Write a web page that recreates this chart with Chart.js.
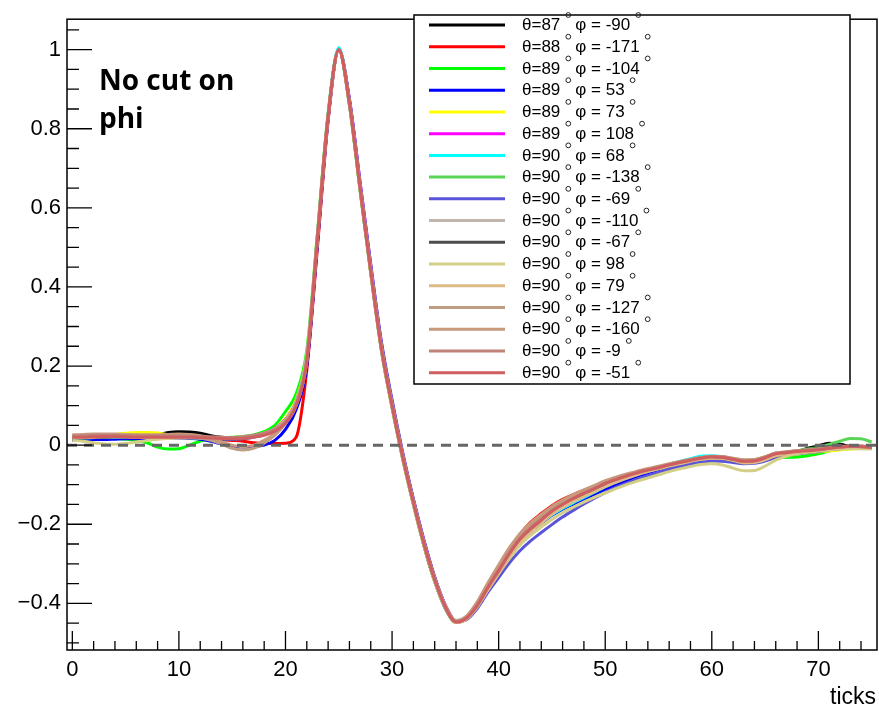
<!DOCTYPE html>
<html>
<head>
<meta charset="utf-8">
<script src="https://cdn.jsdelivr.net/npm/chart.js@4.4.0/dist/chart.umd.min.js"></script>
<style>
  html, body { margin: 0; padding: 0; background: #fff; }
</style>
</head>
<body>
<canvas id="myChart" width="879" height="708"></canvas>
<script>
// sample index on the x axis ("ticks")
const sampleTicks = [...Array(76).keys()];

const xMajor = [0, 10, 20, 30, 40, 50, 60, 70];
const yMajor = [-0.4, -0.2, 0, 0.2, 0.4, 0.6, 0.8, 1];

const thetas = ['87', '88', '89', '89', '89', '89', '90', '90', '90', '90', '90', '90', '90', '90', '90', '90', '90'];
const phis = ['-90', '-171', '-104', '53', '73', '108', '68', '-138', '-69', '-110', '-67', '98', '79', '-127', '-160', '-9', '-51'];
const colors = ['#000000', '#ff0000', '#00ff00', '#0000ff', '#ffff00', '#ff00ff', '#00ffff', '#59d454', '#5954d9',
  '#c0b6ac', '#4d4d4d', '#d4cf87', '#deba87', '#bd9e82', '#c7997d', '#bf8278', '#cf5e61'];

const s1 = [0.015,0.016,0.018,0.02,0.02,0.02,0.022,0.024,0.026,0.032,
  0.034,0.033,0.03,0.024,0.02,0.018,0.02,0.022,0.027,0.038,
  0.06,0.105,0.22,0.53,0.835,1.0,0.86,0.645,0.435,0.24,
  0.095,-0.035,-0.15,-0.255,-0.345,-0.413,-0.448,-0.438,-0.407,-0.362,
  -0.32,-0.277,-0.24,-0.21,-0.188,-0.166,-0.15,-0.136,-0.123,-0.111,
  -0.098,-0.088,-0.079,-0.071,-0.064,-0.058,-0.051,-0.045,-0.039,-0.034,
  -0.031,-0.032,-0.037,-0.042,-0.042,-0.036,-0.028,-0.022,-0.016,-0.008,
  -0.002,0.005,0.002,-0.003,-0.005,-0.007];
const s2 = [0.018,0.018,0.019,0.02,0.02,0.019,0.018,0.018,0.018,0.019,
  0.02,0.02,0.018,0.016,0.014,0.012,0.01,0.006,0.004,0.004,
  0.005,0.02,0.19,0.5,0.82,1.0,0.87,0.655,0.445,0.25,
  0.105,-0.025,-0.14,-0.245,-0.335,-0.405,-0.445,-0.436,-0.402,-0.355,
  -0.31,-0.265,-0.225,-0.195,-0.173,-0.153,-0.137,-0.125,-0.114,-0.104,
  -0.093,-0.084,-0.076,-0.069,-0.062,-0.056,-0.049,-0.043,-0.037,-0.032,
  -0.029,-0.03,-0.035,-0.04,-0.039,-0.031,-0.022,-0.019,-0.016,-0.013,
  -0.01,-0.007,-0.005,-0.004,-0.005,-0.006];
const s3 = [0.016,0.017,0.018,0.018,0.017,0.015,0.012,0.006,-0.005,-0.01,
  -0.009,0.0,0.01,0.016,0.018,0.02,0.022,0.026,0.034,0.05,
  0.085,0.13,0.24,0.535,0.835,1.0,0.862,0.645,0.438,0.243,
  0.098,-0.032,-0.147,-0.252,-0.342,-0.41,-0.446,-0.434,-0.399,-0.352,
  -0.308,-0.266,-0.232,-0.207,-0.186,-0.166,-0.15,-0.136,-0.123,-0.111,
  -0.098,-0.088,-0.079,-0.071,-0.064,-0.058,-0.052,-0.046,-0.04,-0.035,
  -0.032,-0.033,-0.037,-0.04,-0.04,-0.036,-0.032,-0.031,-0.03,-0.027,
  -0.022,-0.015,-0.01,-0.006,-0.004,-0.005];
const s4 = [0.012,0.013,0.014,0.014,0.015,0.016,0.016,0.017,0.018,0.018,
  0.018,0.017,0.015,0.01,0.003,-0.003,-0.005,-0.004,0.0,0.012,
  0.04,0.09,0.2,0.51,0.825,1.0,0.87,0.655,0.445,0.25,
  0.105,-0.025,-0.14,-0.245,-0.337,-0.408,-0.447,-0.438,-0.408,-0.365,
  -0.322,-0.28,-0.244,-0.218,-0.197,-0.177,-0.162,-0.149,-0.136,-0.124,
  -0.111,-0.1,-0.089,-0.079,-0.07,-0.062,-0.054,-0.047,-0.041,-0.035,
  -0.032,-0.033,-0.037,-0.042,-0.042,-0.036,-0.026,-0.022,-0.02,-0.018,
  -0.016,-0.013,-0.01,-0.008,-0.007,-0.008];
const s5 = [0.02,0.021,0.022,0.024,0.027,0.03,0.032,0.032,0.031,0.026,
  0.022,0.02,0.019,0.018,0.018,0.019,0.021,0.024,0.03,0.042,
  0.068,0.115,0.23,0.54,0.84,1.0,0.862,0.647,0.437,0.243,
  0.097,-0.033,-0.148,-0.253,-0.343,-0.412,-0.448,-0.436,-0.403,-0.358,
  -0.316,-0.274,-0.238,-0.212,-0.19,-0.17,-0.153,-0.14,-0.127,-0.115,
  -0.102,-0.091,-0.081,-0.073,-0.066,-0.059,-0.052,-0.046,-0.04,-0.035,
  -0.032,-0.033,-0.038,-0.044,-0.044,-0.037,-0.028,-0.024,-0.021,-0.019,
  -0.017,-0.015,-0.012,-0.01,-0.008,-0.008];
const s6 = [0.02,0.02,0.02,0.021,0.021,0.02,0.02,0.02,0.021,0.022,
  0.022,0.021,0.02,0.019,0.018,0.018,0.02,0.024,0.03,0.042,
  0.065,0.11,0.225,0.53,0.835,1.0,0.875,0.665,0.455,0.258,
  0.11,-0.022,-0.138,-0.243,-0.335,-0.405,-0.444,-0.436,-0.404,-0.36,
  -0.317,-0.275,-0.238,-0.212,-0.19,-0.168,-0.151,-0.137,-0.124,-0.112,
  -0.099,-0.089,-0.08,-0.072,-0.065,-0.058,-0.051,-0.045,-0.039,-0.034,
  -0.031,-0.032,-0.037,-0.042,-0.041,-0.034,-0.024,-0.02,-0.017,-0.015,
  -0.013,-0.009,-0.006,-0.004,-0.005,-0.006];
const s7 = [0.018,0.018,0.019,0.02,0.02,0.02,0.02,0.021,0.021,0.021,
  0.02,0.019,0.018,0.017,0.016,0.016,0.018,0.022,0.028,0.04,
  0.062,0.108,0.225,0.535,0.84,1.005,0.868,0.652,0.442,0.246,
  0.1,-0.03,-0.145,-0.25,-0.342,-0.412,-0.448,-0.436,-0.403,-0.358,
  -0.316,-0.273,-0.238,-0.214,-0.195,-0.176,-0.16,-0.146,-0.132,-0.119,
  -0.105,-0.093,-0.082,-0.073,-0.065,-0.057,-0.049,-0.041,-0.034,-0.028,
  -0.027,-0.03,-0.036,-0.041,-0.04,-0.033,-0.023,-0.02,-0.017,-0.015,
  -0.012,-0.009,-0.006,-0.004,-0.005,-0.006];
const s8 = [0.019,0.019,0.02,0.021,0.021,0.02,0.02,0.02,0.02,0.02,
  0.021,0.021,0.02,0.019,0.018,0.017,0.019,0.023,0.028,0.038,
  0.06,0.104,0.218,0.528,0.835,1.0,0.866,0.65,0.44,0.245,
  0.1,-0.03,-0.145,-0.25,-0.34,-0.41,-0.447,-0.436,-0.404,-0.36,
  -0.317,-0.274,-0.237,-0.211,-0.189,-0.167,-0.15,-0.136,-0.123,-0.111,
  -0.098,-0.088,-0.079,-0.071,-0.064,-0.057,-0.05,-0.044,-0.038,-0.033,
  -0.03,-0.031,-0.036,-0.041,-0.04,-0.033,-0.023,-0.018,-0.014,-0.01,
  -0.005,0.002,0.01,0.017,0.016,0.008];
const s9 = [0.02,0.02,0.021,0.021,0.021,0.02,0.02,0.02,0.02,0.02,
  0.02,0.02,0.019,0.018,0.016,0.014,0.016,0.02,0.028,0.04,
  0.062,0.105,0.215,0.525,0.83,1.0,0.875,0.665,0.458,0.262,
  0.115,-0.018,-0.135,-0.24,-0.333,-0.405,-0.445,-0.441,-0.413,-0.372,
  -0.335,-0.298,-0.267,-0.242,-0.221,-0.201,-0.182,-0.165,-0.149,-0.134,
  -0.12,-0.107,-0.096,-0.086,-0.077,-0.069,-0.061,-0.054,-0.048,-0.043,
  -0.04,-0.041,-0.044,-0.047,-0.046,-0.04,-0.031,-0.026,-0.022,-0.019,
  -0.016,-0.012,-0.009,-0.007,-0.007,-0.008];
const s10 = [0.021,0.021,0.022,0.022,0.022,0.022,0.021,0.021,0.021,0.021,
  0.021,0.02,0.019,0.018,0.018,0.018,0.02,0.024,0.03,0.041,
  0.064,0.108,0.222,0.53,0.834,1.0,0.866,0.652,0.443,0.248,
  0.102,-0.028,-0.143,-0.248,-0.338,-0.406,-0.443,-0.432,-0.397,-0.35,
  -0.305,-0.262,-0.227,-0.202,-0.181,-0.161,-0.145,-0.131,-0.118,-0.107,
  -0.095,-0.086,-0.077,-0.069,-0.062,-0.056,-0.049,-0.043,-0.037,-0.032,
  -0.029,-0.03,-0.035,-0.04,-0.04,-0.033,-0.024,-0.02,-0.017,-0.014,
  -0.011,-0.008,-0.005,-0.003,-0.003,-0.005];
const s11 = [0.017,0.018,0.019,0.02,0.021,0.021,0.021,0.022,0.023,0.025,
  0.026,0.025,0.022,0.019,0.017,0.016,0.018,0.022,0.028,0.039,
  0.06,0.104,0.216,0.525,0.832,1.0,0.865,0.65,0.44,0.245,
  0.1,-0.03,-0.145,-0.25,-0.34,-0.411,-0.448,-0.439,-0.407,-0.362,
  -0.319,-0.275,-0.236,-0.208,-0.186,-0.166,-0.15,-0.136,-0.123,-0.111,
  -0.098,-0.088,-0.079,-0.071,-0.064,-0.057,-0.05,-0.044,-0.038,-0.033,
  -0.031,-0.033,-0.039,-0.044,-0.043,-0.036,-0.027,-0.021,-0.016,-0.012,
  -0.008,-0.004,-0.003,-0.003,-0.005,-0.007];
const s12 = [0.012,0.01,0.006,0.003,0.002,0.004,0.008,0.012,0.015,0.017,
  0.018,0.018,0.018,0.018,0.017,0.017,0.019,0.023,0.029,0.04,
  0.062,0.106,0.22,0.53,0.835,1.0,0.862,0.647,0.437,0.242,
  0.097,-0.033,-0.148,-0.253,-0.343,-0.412,-0.448,-0.436,-0.406,-0.365,
  -0.325,-0.287,-0.253,-0.228,-0.207,-0.188,-0.171,-0.157,-0.144,-0.132,
  -0.121,-0.11,-0.1,-0.091,-0.083,-0.075,-0.067,-0.06,-0.054,-0.049,
  -0.047,-0.05,-0.058,-0.065,-0.064,-0.053,-0.038,-0.028,-0.022,-0.018,
  -0.015,-0.012,-0.01,-0.009,-0.009,-0.01];
const s13 = [0.019,0.019,0.02,0.021,0.021,0.021,0.02,0.02,0.02,0.02,
  0.02,0.02,0.019,0.018,0.017,0.017,0.019,0.023,0.028,0.038,
  0.06,0.104,0.218,0.528,0.834,1.0,0.864,0.648,0.438,0.243,
  0.098,-0.032,-0.147,-0.252,-0.342,-0.411,-0.449,-0.44,-0.409,-0.366,
  -0.325,-0.282,-0.245,-0.219,-0.197,-0.175,-0.158,-0.143,-0.13,-0.118,
  -0.105,-0.094,-0.084,-0.075,-0.067,-0.06,-0.053,-0.047,-0.041,-0.036,
  -0.033,-0.034,-0.039,-0.045,-0.044,-0.037,-0.027,-0.022,-0.019,-0.016,
  -0.013,-0.01,-0.007,-0.005,-0.005,-0.007];
const s14 = [0.022,0.022,0.023,0.024,0.024,0.023,0.022,0.022,0.022,0.022,
  0.021,0.02,0.018,0.012,0.003,-0.008,-0.012,-0.008,0.005,0.025,
  0.055,0.1,0.212,0.522,0.83,1.0,0.866,0.652,0.443,0.248,
  0.103,-0.027,-0.142,-0.247,-0.338,-0.408,-0.446,-0.434,-0.399,-0.352,
  -0.308,-0.264,-0.227,-0.2,-0.178,-0.158,-0.141,-0.127,-0.115,-0.104,
  -0.092,-0.083,-0.075,-0.068,-0.061,-0.055,-0.049,-0.043,-0.037,-0.032,
  -0.029,-0.03,-0.034,-0.038,-0.037,-0.03,-0.02,-0.017,-0.014,-0.012,
  -0.01,-0.007,-0.004,-0.002,-0.002,-0.004];
const s15 = [0.026,0.027,0.028,0.028,0.028,0.027,0.026,0.026,0.026,0.027,
  0.028,0.027,0.024,0.018,0.008,0.0,-0.004,0.0,0.012,0.03,
  0.058,0.102,0.215,0.525,0.832,1.0,0.866,0.652,0.443,0.248,
  0.103,-0.027,-0.142,-0.247,-0.338,-0.408,-0.445,-0.432,-0.396,-0.348,
  -0.303,-0.26,-0.224,-0.197,-0.175,-0.155,-0.139,-0.125,-0.113,-0.102,
  -0.09,-0.081,-0.073,-0.066,-0.059,-0.053,-0.047,-0.041,-0.036,-0.031,
  -0.028,-0.029,-0.033,-0.037,-0.036,-0.029,-0.02,-0.017,-0.014,-0.012,
  -0.01,-0.007,-0.004,-0.002,-0.002,-0.004];
const s16 = [0.024,0.024,0.025,0.025,0.025,0.024,0.024,0.024,0.024,0.024,
  0.024,0.023,0.022,0.021,0.02,0.019,0.021,0.025,0.03,0.04,
  0.06,0.104,0.216,0.525,0.832,1.0,0.866,0.651,0.441,0.246,
  0.101,-0.029,-0.144,-0.249,-0.34,-0.41,-0.447,-0.436,-0.404,-0.358,
  -0.315,-0.272,-0.235,-0.209,-0.187,-0.166,-0.149,-0.134,-0.121,-0.109,
  -0.096,-0.086,-0.077,-0.069,-0.062,-0.056,-0.049,-0.043,-0.037,-0.032,
  -0.029,-0.03,-0.035,-0.04,-0.039,-0.031,-0.021,-0.018,-0.015,-0.013,
  -0.011,-0.008,-0.005,-0.003,-0.003,-0.005];
const s17 = [0.02,0.02,0.021,0.022,0.022,0.021,0.02,0.02,0.02,0.02,
  0.02,0.02,0.019,0.018,0.017,0.016,0.017,0.02,0.025,0.035,
  0.055,0.10,0.21,0.52,0.83,1.0,0.865,0.65,0.44,0.245,
  0.10,-0.03,-0.145,-0.25,-0.34,-0.41,-0.447,-0.437,-0.405,-0.36,
  -0.318,-0.275,-0.238,-0.212,-0.19,-0.167,-0.15,-0.135,-0.122,-0.11,
  -0.097,-0.087,-0.078,-0.07,-0.063,-0.057,-0.05,-0.044,-0.038,-0.033,
  -0.03,-0.031,-0.036,-0.041,-0.04,-0.032,-0.022,-0.019,-0.016,-0.014,
  -0.012,-0.008,-0.005,-0.003,-0.004,-0.006];

const series = [s1, s2, s3, s4, s5, s6, s7, s8, s9, s10, s11, s12, s13, s14, s15, s16, s17];

const FONT = '"Liberation Sans", Arial, Helvetica, sans-serif';

function degree(ctx, cx, cy) {
    ctx.beginPath();
    ctx.arc(cx, cy, 2.4, 0, Math.PI * 2);
    ctx.stroke();
}

// frame, inward ROOT-style ticks, legend box and text labels
const rootDecor = {
    id: 'rootDecor',
    afterDraw(chart) {
        const { ctx, chartArea: a, scales: { x, y } } = chart;
        ctx.save();
        ctx.strokeStyle = '#000';
        ctx.lineWidth = 1.5;
        ctx.strokeRect(a.left, a.top, a.right - a.left, a.bottom - a.top);

        ctx.lineWidth = 1.3;
        ctx.beginPath();
        for (let k = -10; k <= 21; k++) {
            const py = y.getPixelForValue(k * 0.05);
            if (py < a.top || py > a.bottom) continue;
            const len = (k % 4 === 0) ? 25 : 12;
            ctx.moveTo(a.left, py);
            ctx.lineTo(a.left + len, py);
        }
        for (let v = 0; v <= 74; v += 2) {
            const px = x.getPixelForValue(v);
            const len = (v % 10 === 0) ? 19 : 9;
            ctx.moveTo(px, a.bottom);
            ctx.lineTo(px, a.bottom - len);
        }
        ctx.stroke();

        // axis title
        ctx.fillStyle = '#000';
        ctx.font = '23px ' + FONT;
        ctx.textAlign = 'right';
        ctx.textBaseline = 'alphabetic';
        ctx.fillText('ticks', a.right - 1, 704);

        // annotation
        ctx.textAlign = 'left';
        ctx.font = 'bold 28px "Open Sans", sans-serif';
        ctx.fillText('No cut on', 99, 90);
        ctx.fillText('phi', 99, 128);

        // legend
        const bx = 414, by = 15, bw = 436, bh = 369;
        ctx.fillStyle = '#fff';
        ctx.fillRect(bx, by, bw, bh);
        ctx.lineWidth = 1.5;
        ctx.strokeStyle = '#000';
        ctx.strokeRect(bx, by, bw, bh);
        for (let i = 0; i < series.length; i++) {
            const ly = 25 + i * 21.73;
            ctx.strokeStyle = colors[i];
            ctx.lineWidth = 3;
            ctx.beginPath();
            ctx.moveTo(429, ly);
            ctx.lineTo(505, ly);
            ctx.stroke();

            ctx.fillStyle = '#000';
            ctx.strokeStyle = '#222';
            ctx.lineWidth = 1;
            ctx.textBaseline = 'middle';
            ctx.font = '17px ' + FONT;
            const t1 = 'θ=' + thetas[i];
            let tx = 522;
            ctx.fillText(t1, tx, ly + 0.5);
            tx += ctx.measureText(t1).width;
            degree(ctx, tx + 8, ly - 10);
            tx += 15;
            const t2 = 'φ = ' + phis[i];
            ctx.fillText(t2, tx, ly + 0.5);
            tx += ctx.measureText(t2).width;
            degree(ctx, tx + 8, ly - 10);
        }
        ctx.restore();
    }
};

const datasets = series.map((vals, i) => ({
    label: `θ=${thetas[i]}° φ = ${phis[i]}°`,
    data: vals.map((v, k) => ({ x: sampleTicks[k], y: v })),
    borderColor: colors[i],
    borderWidth: 3,
    pointRadius: 0,
    cubicInterpolationMode: 'monotone',
    order: series.length - i
}));

datasets.push({
    label: 'zero',
    data: [{ x: -0.5, y: 0 }, { x: 75.5, y: 0 }],
    borderColor: '#666666',
    borderWidth: 3,
    borderDash: [10, 7],
    pointRadius: 0,
    order: -1
});

const ctx = document.getElementById('myChart');
new Chart(ctx, {
    type: 'line',
    data: { datasets: datasets },
    plugins: [rootDecor],
    options: {
        responsive: false,
        animation: false,
        devicePixelRatio: 1,
        layout: { padding: { top: 10, right: 2, left: 0, bottom: 0 } },
        plugins: { legend: { display: false }, tooltip: { enabled: false } },
        scales: {
            x: {
                type: 'linear',
                min: -0.5,
                max: 75.5,
                grid: { display: false, drawTicks: false },
                border: { display: false },
                afterBuildTicks: axis => { axis.ticks = xMajor.map(v => ({ value: v })); },
                afterFit: axis => { axis.height = 58; },
                ticks: {
                    color: '#000',
                    padding: 7,
                    maxRotation: 0,
                    autoSkip: false,
                    font: { family: FONT, size: 22 }
                }
            },
            y: {
                type: 'linear',
                min: -0.518,
                max: 1.077,
                grid: { display: false, drawTicks: false },
                border: { display: false },
                afterBuildTicks: axis => { axis.ticks = yMajor.map(v => ({ value: v })); },
                afterFit: axis => { axis.width = 67; },
                ticks: {
                    color: '#000',
                    padding: 6,
                    font: { family: FONT, size: 22 },
                    callback: v => (v < 0 ? '\u2212' : '') + String(Math.round(Math.abs(v) * 10) / 10)
                }
            }
        }
    }
});
</script>
</body>
</html>
